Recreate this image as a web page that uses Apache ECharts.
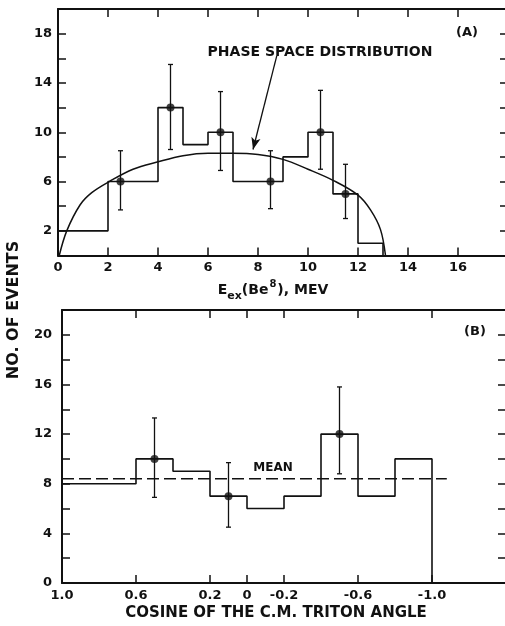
<!DOCTYPE html>
<html>
<head>
<meta charset="utf-8">
<script src="https://cdn.jsdelivr.net/npm/echarts@6/dist/echarts.min.js"></script>
<style>
  html, body { margin: 0; padding: 0; background: #fff; }
  #chart { width: 505px; height: 626px; }
</style>
</head>
<body>
<div id="chart"></div>
<script>
// panel A: Be8 excitation energy histogram
const energyEdges = [0, 2, 4, 5, 6, 7, 9, 10, 11, 12, 13];
const energyCounts = [2, 6, 12, 9, 10, 6, 8, 10, 5, 1];
// [x, y, low, high]
const energyPoints = [
  [2.5, 6, 3.7, 8.5],
  [4.5, 12, 8.6, 15.5],
  [6.5, 10, 6.9, 13.3],
  [8.5, 6, 3.8, 8.5],
  [10.5, 10, 7.0, 13.4],
  [11.5, 5, 3.0, 7.4]
];
const phaseX = [0.05, 0.35, 0.88, 1.35, 2.05, 3, 4, 5, 6, 7, 8, 9, 10, 11, 12, 12.5, 12.9, 13.1];
const phaseY = [0, 2.0, 4.1, 5.1, 6.0, 7.0, 7.6, 8.1, 8.3, 8.3, 8.2, 7.8, 7.0, 6.1, 4.9, 3.7, 2.1, 0];
const energyTicks = [0, 2, 4, 6, 8, 10, 12, 14, 16];

// panel B: cosine of c.m. triton angle
const cosEdges = [1.0, 0.6, 0.4, 0.2, 0, -0.2, -0.4, -0.6, -0.8, -1.0];
const cosCounts = [8, 10, 9, 7, 6, 7, 12, 7, 10];
const cosPoints = [
  [0.5, 10, 6.9, 13.3],
  [0.1, 7, 4.5, 9.7],
  [-0.5, 12, 8.8, 15.8]
];
const cosTicks = [1.0, 0.6, 0.2, 0, -0.2, -0.6, -1.0];
const meanValue = 8.4;
const meanRange = [1.0, -1.08];

const ink = '#111';
const labelFont = { color: ink, fontFamily: 'DejaVu Sans', fontWeight: 'bold', fontSize: 13 };

function stepData(edges, counts) {
  const d = counts.map((c, i) => [edges[i], c]);
  d.push([edges[edges.length - 1], counts[counts.length - 1]]);
  d.push([edges[edges.length - 1], 0]);
  return d;
}

function errorBars(params, api) {
  const x = api.value(0);
  const hi = api.coord([x, api.value(3)]);
  const lo = api.coord([x, api.value(2)]);
  const st = { stroke: ink, lineWidth: 1.3 };
  return {
    type: 'group',
    children: [
      { type: 'line', shape: { x1: hi[0], y1: hi[1], x2: lo[0], y2: lo[1] }, style: st },
      { type: 'line', shape: { x1: hi[0] - 2.5, y1: hi[1], x2: hi[0] + 2.5, y2: hi[1] }, style: st },
      { type: 'line', shape: { x1: lo[0] - 2.5, y1: lo[1], x2: lo[0] + 2.5, y2: lo[1] }, style: st }
    ]
  };
}

function xAxisBase(grid, pos) {
  return {
    gridIndex: grid, type: 'value', position: pos,
    axisLine: { show: true, onZero: false, lineStyle: { color: ink, width: 2 } },
    axisTick: { show: true, inside: true, length: 8, lineStyle: { color: ink, width: 1.5 } },
    splitLine: { show: false }
  };
}
function yAxisBase(grid, pos) {
  return {
    gridIndex: grid, type: 'value', position: pos, min: 0, interval: 2,
    axisLine: { show: true, onZero: false, lineStyle: { color: ink, width: 2 } },
    axisTick: { show: true, inside: true, length: 8, lineStyle: { color: ink, width: 1.5 } },
    splitLine: { show: false }
  };
}

const chart = echarts.init(document.getElementById('chart'));
chart.setOption({
  backgroundColor: '#fff',
  animation: false,
  grid: [
    { left: 58, top: 9, width: 450, height: 246.5, outerBoundsMode: 'none' },
    { left: 62, top: 310, width: 444, height: 273, outerBoundsMode: 'none' }
  ],
  xAxis: [
    Object.assign(xAxisBase(0, 'bottom'), {
      min: 0, max: 18, interval: 2,
      axisLabel: Object.assign({ margin: 6, showMaxLabel: false,
        formatter: v => energyTicks.includes(v) ? String(v) : '' }, labelFont)
    }),
    Object.assign(xAxisBase(0, 'top'), { min: 0, max: 18, interval: 2, axisLabel: { show: false } }),
    Object.assign(xAxisBase(1, 'bottom'), {
      min: -1.4, max: 1.0, inverse: true,
      axisTick: { show: true, inside: true, length: 8, customValues: cosTicks, lineStyle: { color: ink, width: 1.5 } },
      axisLabel: Object.assign({ margin: 6, customValues: cosTicks,
        formatter: v => v === 0 ? '0' : v.toFixed(1) }, labelFont)
    }),
    Object.assign(xAxisBase(1, 'top'), {
      min: -1.4, max: 1.0, inverse: true,
      axisTick: { show: true, inside: true, length: 8, customValues: cosTicks, lineStyle: { color: ink, width: 1.5 } },
      axisLabel: { show: false }
    })
  ],
  yAxis: [
    Object.assign(yAxisBase(0, 'left'), {
      max: 20,
      axisLabel: Object.assign({ margin: 6, formatter: v => (v % 4 === 2) ? String(v) : '' }, labelFont)
    }),
    Object.assign(yAxisBase(0, 'right'), { max: 20, axisLabel: { show: false } }),
    Object.assign(yAxisBase(1, 'left'), {
      max: 22,
      axisLabel: Object.assign({ margin: 10, formatter: v => (v % 4 === 0) ? String(v) : '' }, labelFont)
    }),
    Object.assign(yAxisBase(1, 'right'), { max: 22, axisLabel: { show: false } })
  ],
  series: [
    {
      type: 'line', xAxisIndex: 0, yAxisIndex: 0, step: 'end', symbol: 'none',
      lineStyle: { color: ink, width: 1.6 }, data: stepData(energyEdges, energyCounts),
      markLine: {
        silent: true, symbol: ['none', 'arrow'], symbolSize: [7, 12],
        lineStyle: { color: ink, width: 1.3, type: 'solid' }, label: { show: false },
        data: [[{ coord: [8.75, 16.2] }, { coord: [7.8, 8.6] }]]
      }
    },
    {
      type: 'line', xAxisIndex: 0, yAxisIndex: 0, smooth: 0.35, symbol: 'none',
      lineStyle: { color: ink, width: 1.5 }, data: phaseX.map((x, i) => [x, phaseY[i]])
    },
    {
      type: 'custom', xAxisIndex: 0, yAxisIndex: 0, renderItem: errorBars,
      encode: { x: 0, y: [2, 3] }, data: energyPoints
    },
    {
      type: 'scatter', xAxisIndex: 0, yAxisIndex: 0, symbolSize: 8,
      itemStyle: { color: ink }, data: energyPoints.map(p => [p[0], p[1]])
    },
    {
      type: 'line', xAxisIndex: 2, yAxisIndex: 2, step: 'end', symbol: 'none',
      lineStyle: { color: ink, width: 1.6 }, data: stepData(cosEdges, cosCounts)
    },
    {
      type: 'line', xAxisIndex: 2, yAxisIndex: 2, symbol: 'none',
      lineStyle: { color: ink, width: 1.4, type: [12, 5] },
      data: meanRange.map(x => [x, meanValue])
    },
    {
      type: 'custom', xAxisIndex: 2, yAxisIndex: 2, renderItem: errorBars,
      encode: { x: 0, y: [2, 3] }, data: cosPoints
    },
    {
      type: 'scatter', xAxisIndex: 2, yAxisIndex: 2, symbolSize: 8,
      itemStyle: { color: ink }, data: cosPoints.map(p => [p[0], p[1]])
    }
  ],
  graphic: [
    { type: 'text', x: 320, y: 52, style: { text: 'PHASE SPACE DISTRIBUTION', align: 'center', verticalAlign: 'middle',
      fill: ink, font: 'bold 14px "DejaVu Sans"' } },
    { type: 'text', x: 467, y: 33, style: { text: '(A)', align: 'center', verticalAlign: 'middle',
      fill: ink, font: 'bold 13px "DejaVu Sans"' } },
    { type: 'text', x: 475, y: 332, style: { text: '(B)', align: 'center', verticalAlign: 'middle',
      fill: ink, font: 'bold 13px "DejaVu Sans"' } },
    { type: 'text', x: 273, y: 468, style: { text: 'MEAN', align: 'center', verticalAlign: 'middle',
      fill: ink, font: 'bold 12px "DejaVu Sans"' } },
    { type: 'text', x: 14, y: 310, rotation: Math.PI / 2, style: { text: 'NO. OF EVENTS', align: 'center', verticalAlign: 'middle',
      fill: ink, font: 'bold 16px "DejaVu Sans"' } },
    { type: 'text', x: 273, y: 288, style: {
      text: '{m|E}{s|ex}{m|(Be}{u|8}{m|), MEV}', align: 'center', verticalAlign: 'middle',
      rich: {
        m: { fill: ink, font: 'bold 14px "DejaVu Sans"', verticalAlign: 'bottom', lineHeight: 18 },
        s: { fill: ink, font: 'bold 11px "DejaVu Sans"', verticalAlign: 'bottom', lineHeight: 18, padding: [0, 0, -5, 0] },
        u: { fill: ink, font: 'bold 10px "DejaVu Sans"', verticalAlign: 'top', lineHeight: 18, padding: [0, 1, 6, 1] }
      } } },
    { type: 'text', x: 276, y: 613, style: { text: 'COSINE OF THE C.M. TRITON ANGLE', align: 'center', verticalAlign: 'middle',
      fill: ink, font: 'bold 15px "DejaVu Sans"' } }
  ]
});
</script>
</body>
</html>
